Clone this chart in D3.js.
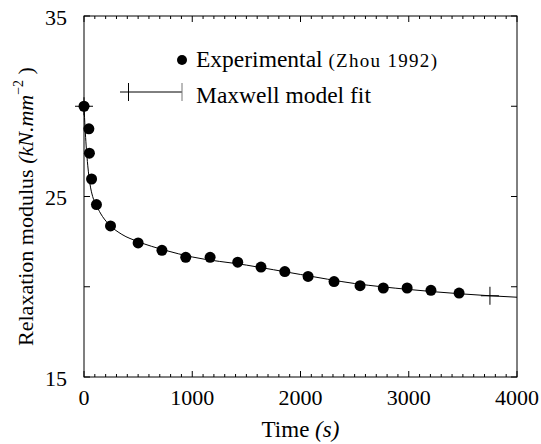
<!DOCTYPE html>
<html>
<head>
<meta charset="utf-8">
<script src="https://cdn.jsdelivr.net/npm/d3@7"></script>
<style>
  body { margin: 0; background: #fff; }
  text { font-family: 'Liberation Serif', 'DejaVu Serif', serif; fill: #000; }
</style>
</head>
<body>
<div id="chart"></div>
<script>
// experimental points (Zhou 1992)
let expTime = [0, 45, 50, 70, 115, 245, 500, 720, 940, 1165, 1420, 1635, 1855, 2070, 2310, 2550, 2765, 2985, 3205, 3465]
let expModulus = [30.0, 28.75, 27.4, 25.97, 24.55, 23.37, 22.43, 22.02, 21.63, 21.63, 21.36, 21.09, 20.84, 20.57, 20.29, 20.06, 19.93, 19.93, 19.8, 19.65]

// maxwell fit curve
let fitTime = [0, 10, 20, 35, 55, 80, 115, 170, 240, 350, 500, 750, 1000, 1500, 2000, 2500, 3000, 3500, 3750, 4000]
let fitModulus = [30.0, 28.8, 27.8, 26.7, 25.7, 25.0, 24.5, 23.9, 23.4, 22.9, 22.5, 22.02, 21.65, 21.2, 20.68, 20.18, 19.85, 19.6, 19.5, 19.42]
let fitMarkers = [0, 3750]

let xTicks = [0, 1000, 2000, 3000, 4000]
let yTicks = [15, 25, 35]
let yMajor = [15, 20, 25, 30, 35]

let margin = { top: 16, left: 84, right: 24, bottom: 67 }
let width = 541 - margin.left - margin.right
let height = 444 - margin.top - margin.bottom

let svg = d3
  .select('#chart')
  .append('svg')
  .attr('width', 541)
  .attr('height', 444)
  .append('g')
  .attr('transform', 'translate(' + margin.left + ',' + margin.top + ')')

let xScale = d3.scaleLinear().domain([0, 4000]).range([0, width])
let yScale = d3.scaleLinear().domain([15, 35]).range([height, 0])

// frame
svg
  .append('rect')
  .attr('width', width)
  .attr('height', height)
  .attr('fill', 'none')
  .attr('stroke', 'black')
  .attr('stroke-width', 1)

// x ticks, minor every 100, on bottom and top
let xMinor = d3.range(0, 4001, 100)
svg
  .selectAll('.xtick')
  .data(xMinor)
  .enter()
  .append('g')
  .each(function(d) {
    let len = d % 1000 === 0 ? 6 : 3
    let g = d3.select(this)
    g.append('line')
      .attr('x1', xScale(d)).attr('x2', xScale(d))
      .attr('y1', height).attr('y2', height - len)
      .attr('stroke', 'black')
    g.append('line')
      .attr('x1', xScale(d)).attr('x2', xScale(d))
      .attr('y1', 0).attr('y2', len)
      .attr('stroke', 'black')
  })

svg
  .selectAll('.xlabel')
  .data(xTicks)
  .enter()
  .append('text')
  .attr('x', d => xScale(d))
  .attr('y', height + 28)
  .attr('text-anchor', 'middle')
  .attr('font-size', '22px')
  .text(d => d)

// y ticks left and right
svg
  .selectAll('.ytick')
  .data(yMajor)
  .enter()
  .append('g')
  .each(function(d) {
    let g = d3.select(this)
    g.append('line')
      .attr('x1', 0).attr('x2', 6)
      .attr('y1', yScale(d)).attr('y2', yScale(d))
      .attr('stroke', 'black')
    g.append('line')
      .attr('x1', width).attr('x2', width - 6)
      .attr('y1', yScale(d)).attr('y2', yScale(d))
      .attr('stroke', 'black')
  })

svg
  .selectAll('.ylabel')
  .data(yTicks)
  .enter()
  .append('text')
  .attr('x', -17)
  .attr('y', d => yScale(d) + 8.5)
  .attr('text-anchor', 'end')
  .attr('font-size', '22px')
  .text(d => d)

// fit line
let line = d3
  .line()
  .x((d, i) => xScale(fitTime[i]))
  .y(d => yScale(d))
  .curve(d3.curveMonotoneX)

svg
  .append('path')
  .datum(fitModulus)
  .attr('d', line)
  .attr('fill', 'none')
  .attr('stroke', 'black')
  .attr('stroke-width', 1)

function plus(g, cx, cy) {
  g.append('line').attr('x1', cx - 9).attr('x2', cx + 9).attr('y1', cy).attr('y2', cy).attr('stroke', 'black')
  g.append('line').attr('x1', cx).attr('x2', cx).attr('y1', cy - 9).attr('y2', cy + 9).attr('stroke', 'black')
}

fitMarkers.forEach(t => {
  let i = fitTime.indexOf(t)
  plus(svg.append('g'), xScale(t), yScale(fitModulus[i]))
})

// experimental dots
svg
  .selectAll('.pts')
  .data(expModulus)
  .enter()
  .append('circle')
  .attr('cx', (d, i) => xScale(expTime[i]))
  .attr('cy', d => yScale(d))
  .attr('r', 5.5)
  .attr('fill', 'black')

// legend
let legend = svg.append('g')
legend
  .append('circle')
  .attr('cx', 98)
  .attr('cy', 44)
  .attr('r', 5)
  .attr('fill', 'black')

let t1 = legend
  .append('text')
  .attr('x', 112)
  .attr('y', 51)
  .attr('font-size', '23.5px')
t1.append('tspan').text('Experimental ')
t1.append('tspan').attr('font-size', '19px').attr('letter-spacing', '1.3px').text('(Zhou 1992)')

legend
  .append('line')
  .attr('x1', 36).attr('x2', 98)
  .attr('y1', 76).attr('y2', 76)
  .attr('stroke', 'black')
legend.append('line').attr('x1', 44.5).attr('x2', 44.5).attr('y1', 67).attr('y2', 85).attr('stroke', 'black')
legend.append('line').attr('x1', 98).attr('x2', 98).attr('y1', 67).attr('y2', 85).attr('stroke', '#777')

legend
  .append('text')
  .attr('x', 112)
  .attr('y', 87)
  .attr('font-size', '23.5px')
  .text('Maxwell model fit')

// axis titles
let xt = svg
  .append('text')
  .attr('x', width / 2)
  .attr('y', height + 60)
  .attr('text-anchor', 'middle')
  .attr('font-size', '23px')
xt.append('tspan').text('Time ')
xt.append('tspan').attr('font-style', 'italic').text('(s)')

let yt = svg
  .append('text')
  .attr('transform', `translate(${-51},${height / 2 + 10}) rotate(-90)`)
  .attr('text-anchor', 'middle')
  .attr('font-size', '22px')
yt.append('tspan').text('Relaxation modulus ')
yt.append('tspan').attr('font-style', 'italic').text('(kN.mm')
yt.append('tspan').attr('font-size', '14px').attr('dy', -10).text('−2')
yt.append('tspan').attr('dy', 10).text(' )')
</script>
</body>
</html>
